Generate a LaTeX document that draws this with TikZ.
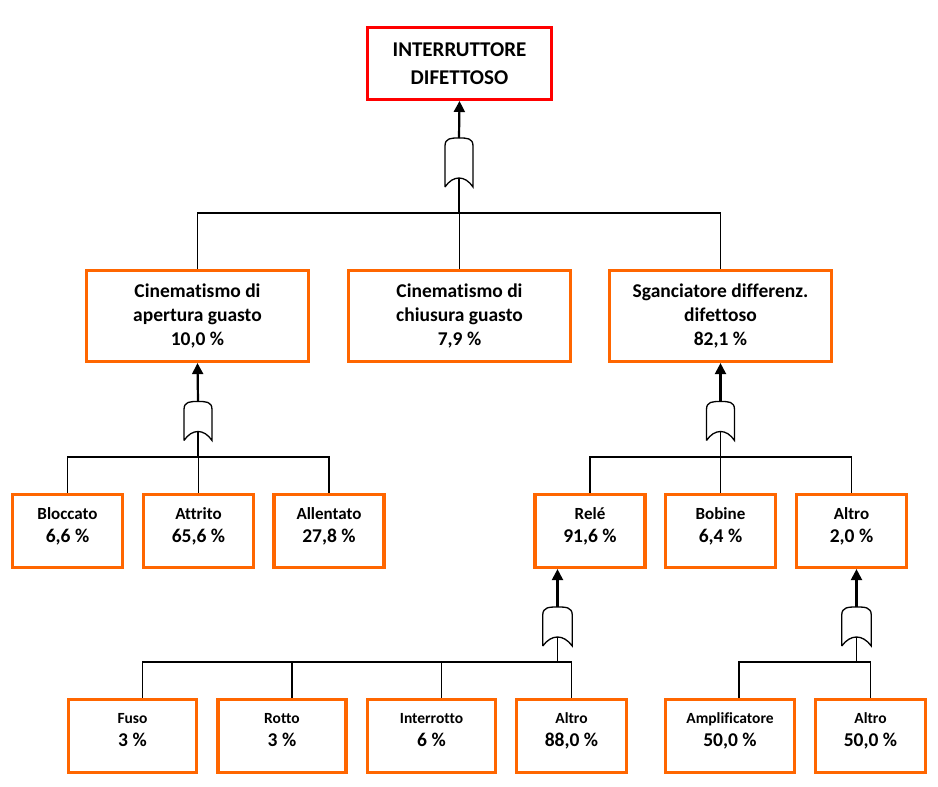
\documentclass[tikz,border=0pt]{standalone}
\usepackage{fontspec}
\setmainfont{Carlito}[Ligatures=NoCommon]
\usetikzlibrary{arrows.meta,calc}
\definecolor{faultorange}{RGB}{255,102,0}
\definecolor{faultred}{RGB}{255,0,0}
\tikzstyle{every picture}=[x=1pt, y=-1pt, >={Triangle[length=11pt,width=11pt]},%
	font=\bfseries]
\tikzstyle{event}=[draw=faultorange, line width=3.2pt, align=center, inner sep=0pt]
\tikzstyle{topevent}=[event, draw=faultred, line width=3pt, minimum width=184, minimum height=72,%
	font=\bfseries\fontsize{21}{28}\selectfont]
\tikzstyle{cause}=[event, minimum width=222, minimum height=91, font=\bfseries\fontsize{19.5}{24}\selectfont]
\tikzstyle{mode}=[event, minimum width=110, minimum height=73, text depth=12pt,%
	font=\bfseries\fontsize{19.5}{23}\selectfont]
\tikzstyle{submode}=[mode, minimum width=128]
\tikzstyle{gate}=[inner sep=0pt, outer sep=0pt, minimum width=28, minimum height=39]
\tikzstyle{wire}=[line width=1.3pt]
\tikzstyle{lift}=[->, line width=2.2pt]
\newcommand{\lname}{\fontsize{17}{23}\selectfont}
\newcommand{\sname}{\fontsize{15.5}{23}\selectfont}
% OR gate drawn on the anchors of a gate node, input point is (name-in)
\newcommand{\orgate}[1]{%
	\draw[wire] (#1.south west) -- ($(#1.north west)+(0,8)$)%
		.. controls (#1.north west) and ($(#1.north)+(-8,0)$) .. (#1.north)%
		.. controls ($(#1.north)+(8,0)$) and (#1.north east) .. ($(#1.north east)+(0,8)$)%
		-- (#1.south east)%
		.. controls ($(#1.south)+(6,-12)$) and ($(#1.south)+(-6,-12)$) .. (#1.south west);
	\coordinate (#1-in) at ($(#1.south)+(0,-9)$);}

\begin{document}
\begin{tikzpicture}
	\useasboundingbox (0,0) rectangle (938,787);
	% top event
	\node[topevent] (top) at (459.5,63.5) {INTERRUTTORE\\DIFETTOSO};
	\node[gate, minimum height=49] (g1) at (459,162.5) {};
	\orgate{g1}
	\draw[lift] (g1.north) -- (top.south);
	% causes
	\node[cause] (apertura) at (197.5,316) {Cinematismo di\\apertura guasto\\10,0 \%};
	\node[cause] (chiusura) at (459.5,316) {Cinematismo di\\chiusura guasto\\7,9 \%};
	\node[cause] (sganciatore) at (720.5,316) {Sganciatore differenz.\\difettoso\\82,1 \%};
	\coordinate (b1) at (459,213);
	\draw[wire] (g1-in) -- (b1);
	\draw[wire] (apertura.north) |- (b1) -| (sganciatore.north);
	\draw[wire] (chiusura.north) -- (chiusura.north |- b1);
	% apertura
	\node[gate] (g2) at (198,421) {};
	\orgate{g2}
	\draw[lift] (g2.north) -- (apertura.south);
	\node[mode] (bloccato) at (67.5,531) {{\lname Bloccato}\\6,6 \%};
	\node[mode] (attrito) at (198.5,531) {{\lname Attrito}\\65,6 \%};
	\node[mode] (allentato) at (329,531) {{\lname Allentato}\\27,8 \%};
	\coordinate (b2) at (198,457);
	\draw[wire] (g2-in) -- (b2);
	\draw[wire] (bloccato.north) |- (b2) -| (allentato.north);
	\draw[wire] (attrito.north) -- (attrito.north |- b2);
	% sganciatore
	\node[gate] (g3) at (720.5,421) {};
	\orgate{g3}
	\draw[lift] (g3.north) -- (sganciatore.south);
	\node[mode] (rele) at (590,531) {{\lname Relé}\\91,6 \%};
	\node[mode] (bobine) at (720.5,531) {{\lname Bobine}\\6,4 \%};
	\node[mode] (altroS) at (851.5,531) {{\lname Altro}\\2,0 \%};
	\coordinate (b3) at (720.5,457);
	\draw[wire] (g3-in) -- (b3);
	\draw[wire] (rele.north) |- (b3) -| (altroS.north);
	\draw[wire] (bobine.north) -- (bobine.north |- b3);
	% rele
	\node[gate, minimum width=29.5] (g4) at (557.5,626.5) {};
	\orgate{g4}
	\draw[lift] (g4.north) -- (rele.south -| g4.north);
	\node[submode] (fuso) at (132.5,736) {{\sname Fuso}\\3 \%};
	\node[submode] (rotto) at (282,736) {{\sname Rotto}\\3 \%};
	\node[submode] (interrotto) at (431.5,736) {{\sname Interrotto}\\6 \%};
	\node[mode] (altroR) at (571.5,736) {{\sname Altro}\\88,0 \%};
	\coordinate (b4) at (557.5,662);
	\draw[wire] (g4-in) -- (b4);
	\draw[wire] ([xshift=10pt]fuso.north) |- (b4) -| (altroR.north);
	\draw[wire] ([xshift=10pt]rotto.north) -- ([xshift=10pt]rotto.north |- b4);
	\draw[wire] ([xshift=10pt]interrotto.north) -- ([xshift=10pt]interrotto.north |- b4);
	% altro
	\node[gate, minimum width=29.5] (g5) at (856.5,626.5) {};
	\orgate{g5}
	\draw[lift] (g5.north) -- (altroS.south -| g5.north);
	\node[submode, minimum width=129] (amplificatore) at (730,736) {{\sname Amplificatore}\\50,0 \%};
	\node[mode] (altroA) at (870.5,736) {{\sname Altro}\\50,0 \%};
	\coordinate (b5) at (856.5,662);
	\draw[wire] (g5-in) -- (b5);
	\draw[wire] ([xshift=9pt]amplificatore.north) |- (b5) -| (altroA.north);
\end{tikzpicture}
\end{document}
